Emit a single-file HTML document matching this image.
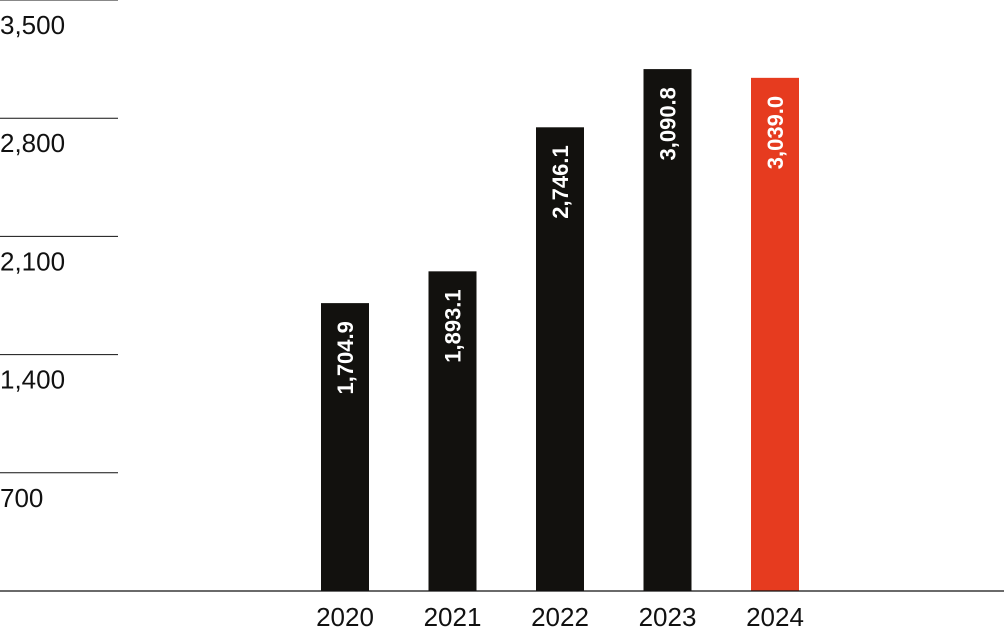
<!DOCTYPE html>
<html><head><meta charset="utf-8"><style>
body{margin:0;background:#fff;}
svg{display:block;font-family:"Liberation Sans",sans-serif;}
</style></head><body>
<svg id="chart" width="1004" height="628" viewBox="0 0 1004 628" xmlns="http://www.w3.org/2000/svg">
<g id="grid"></g>
<g id="bars"></g>
<line x1="0" y1="591" x2="1004" y2="591" stroke="#111" stroke-width="1.2"/>
</svg>
<script>
const categories = ["2020","2021","2022","2023","2024"];
const values = [1704.9, 1893.1, 2746.1, 3090.8, 3039.0];
const labels = ["1,704.9","1,893.1","2,746.1","3,090.8","3,039.0"];
const ticks = [700,1400,2100,2800,3500];
const tickLabels = ["700","1,400","2,100","2,800","3,500"];
const highlight = [false,false,false,false,true];

const NS="http://www.w3.org/2000/svg";
const y0=591, yMax=3500;
function y(v){return y0 - v/yMax*591;}
function xCenter(i){return 345 + i*107.5;}
const grid=document.getElementById('grid');
const bars=document.getElementById('bars');
ticks.forEach((t,i)=>{
  const l=document.createElementNS(NS,'line');
  
  
  l.setAttribute('x1',0);l.setAttribute('x2',118);
  l.setAttribute('y1',y(t));l.setAttribute('y2',y(t));
  l.setAttribute('stroke','#111');l.setAttribute('stroke-width','1');
  grid.appendChild(l);
  const tx=document.createElementNS(NS,'text');
  
  
  tx.setAttribute('x',0);tx.setAttribute('y',y(t)+34);
  tx.setAttribute('font-size','26');tx.setAttribute('fill','#111');
  tx.textContent=tickLabels[i];
  grid.appendChild(tx);
});
categories.forEach((c,i)=>{
  const cx=xCenter(i), top=y(values[i]);
  const r=document.createElementNS(NS,'rect');
  
  
  r.setAttribute('x',cx-24);r.setAttribute('y',top);
  r.setAttribute('width',48);r.setAttribute('height',y0-top);
  r.setAttribute('fill',highlight[i]?'#e63b1f':'#12110e');
  bars.appendChild(r);
  const v=document.createElementNS(NS,'text');
  
  
  v.setAttribute('transform','translate('+(cx+8)+','+(top+18)+') rotate(-90)');
  v.setAttribute('text-anchor','end');
  v.setAttribute('font-size','22');v.setAttribute('font-weight','bold');
  v.setAttribute('fill','#fff');
  v.textContent=labels[i];
  bars.appendChild(v);
  const xl=document.createElementNS(NS,'text');
  
  
  xl.setAttribute('x',cx);xl.setAttribute('y',626);
  xl.setAttribute('text-anchor','middle');
  xl.setAttribute('font-size','26');xl.setAttribute('fill','#111');
  xl.textContent=c;
  bars.appendChild(xl);
});
</script>
</body></html>
